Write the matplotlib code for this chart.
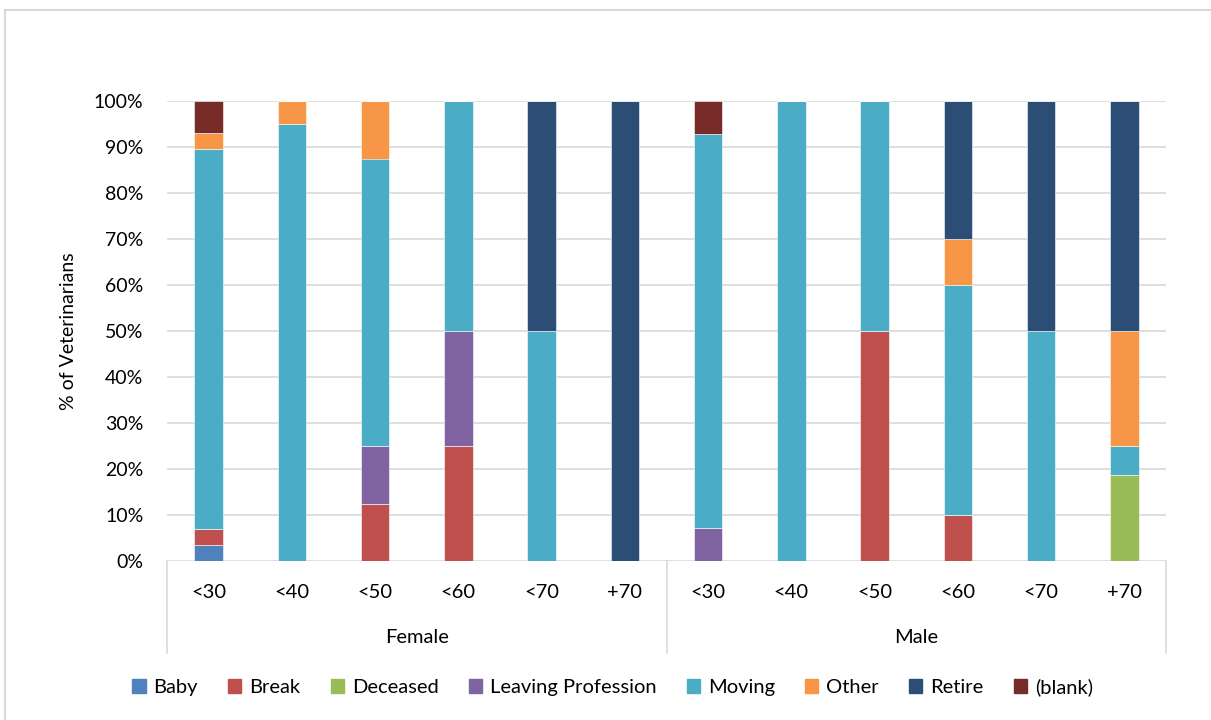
import matplotlib
matplotlib.use("Agg")
import matplotlib.pyplot as plt
from matplotlib.patches import Rectangle
from matplotlib.lines import Line2D
import numpy as np

plt.rcParams['font.family'] = ['Lato', 'DejaVu Sans']

# Age bands within each gender group
genders = ["Female", "Male"]
age_bands = ["<30", "<40", "<50", "<60", "<70", "+70"]

# Share of veterinarians (%) by reason, Female bands then Male bands
reasons = ["Baby", "Break", "Deceased", "Leaving Profession", "Moving", "Other", "Retire", "(blank)"]
baby      = [3.45, 0, 0, 0, 0, 0,      0, 0, 0, 0, 0, 0]
brk       = [3.45, 0, 12.5, 25, 0, 0,  0, 0, 50, 10, 0, 0]
deceased  = [0, 0, 0, 0, 0, 0,         0, 0, 0, 0, 0, 18.75]
leaving   = [0, 0, 12.5, 25, 0, 0,     7.14, 0, 0, 0, 0, 0]
moving    = [82.76, 95, 62.5, 50, 50, 0, 85.72, 100, 50, 50, 50, 6.25]
other     = [3.45, 5, 12.5, 0, 0, 0,   0, 0, 0, 10, 0, 25]
retire    = [0, 0, 0, 0, 50, 100,      0, 0, 0, 30, 50, 50]
blank     = [6.89, 0, 0, 0, 0, 0,      7.14, 0, 0, 0, 0, 0]

series = [baby, brk, deceased, leaving, moving, other, retire, blank]
colors = ["#4F81BD", "#C0504D", "#9BBB59", "#8064A2",
          "#4BACC6", "#F79646", "#2C4D75", "#772C2A"]

fig = plt.figure(figsize=(12.11, 7.2), dpi=100)
ax = fig.add_axes([167 / 1211, 1 - 561 / 720, 999 / 1211, 460 / 720])

n = len(genders) * len(age_bands)
x = np.arange(n)
bottom = np.zeros(n)
for vals, col, name in zip(series, colors, reasons):
    v = np.array(vals, dtype=float)
    ax.bar(x, v, width=0.34, bottom=bottom, color=col, label=name,
           edgecolor="white", linewidth=0.4, zorder=3)
    bottom += v

ax.set_xlim(-0.5, n - 0.5)
ax.set_ylim(0, 100)
ax.set_yticks(np.arange(0, 101, 10))
ax.set_yticklabels([f"{t}%" for t in range(0, 101, 10)], fontsize=14)
ax.yaxis.grid(True, color="#D9D9D9", linewidth=1.2, zorder=0)
ax.tick_params(axis="y", length=0, pad=17)
ax.tick_params(axis="x", length=0, labelbottom=False)
for s in ax.spines.values():
    s.set_visible(False)
ax.set_ylabel("% of Veterinarians", fontsize=14, labelpad=12)

# Two-level category axis
trans = ax.get_xaxis_transform()
for i, lab in enumerate(age_bands * len(genders)):
    ax.text(i, -0.068, lab, transform=trans, ha="center", va="center", fontsize=14.5)
for g, gname in enumerate(genders):
    center = g * len(age_bands) + (len(age_bands) - 1) / 2
    ax.text(center, -0.166, gname, transform=trans, ha="center", va="center", fontsize=14.5)
for xb in [-0.5, len(age_bands) - 0.5, n - 0.5]:
    ax.add_line(Line2D([xb, xb], [0, -0.2], transform=trans, color="#D9D9D9",
                       linewidth=1.2, clip_on=False))

# Legend
handles = [Rectangle((0, 0), 1, 1, color=c) for c in colors]
fig.legend(handles, reasons, loc="center", bbox_to_anchor=(0.506, 1 - 687 / 720),
           ncol=8, frameon=False, fontsize=14.5, handlelength=0.65, handleheight=0.65,
           handletextpad=0.4, columnspacing=1.5)

# Chart area border
fig.patches.append(Rectangle((5 / 1211, -0.02), 1.02, 1 - 10 / 720 + 0.02,
                             transform=fig.transFigure, fill=False,
                             edgecolor="#D9D9D9", linewidth=1.5))

fig.savefig("out.png", dpi=100)
